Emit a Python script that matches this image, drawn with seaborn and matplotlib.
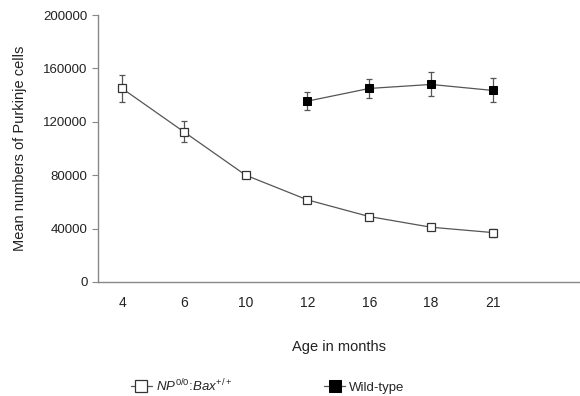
import numpy as np
import pandas as pd
import seaborn as sns
import matplotlib.pyplot as plt

# data
months = ['4', '6', '10', '12', '16', '18', '21']
np_mean = [145000, 112500, 80000, 61500, 49000, 41000, 37000]
np_err = [10000, 8000, 1500, 2000, 1500, 1500, 3000]
wt_months = ['12', '16', '18', '21']
wt_mean = [135500, 145000, 148000, 143500]
wt_err = [7000, 7000, 9000, 9000]

sns.set_style('ticks')
plt.rcParams['font.family'] = ['Liberation Sans', 'DejaVu Sans']
plt.rcParams['mathtext.fontset'] = 'custom'
plt.rcParams['mathtext.it'] = 'Liberation Sans:italic'
plt.rcParams['mathtext.rm'] = 'Liberation Sans'

df_np = pd.DataFrame({'pos': [months.index(m) for m in months], 'cells': np_mean})
df_wt = pd.DataFrame({'pos': [months.index(m) for m in wt_months], 'cells': wt_mean})

fig, ax = plt.subplots(figsize=(5.8, 3.96), dpi=100)
fig.subplots_adjust(left=0.169, right=1.0, bottom=0.288, top=0.962)

line_col = '#555555'
ax.errorbar(df_np['pos'], df_np['cells'], yerr=np_err, fmt='none',
            ecolor=line_col, elinewidth=0.9, capsize=2.5, capthick=0.9, zorder=2)
ax.errorbar(df_wt['pos'], df_wt['cells'], yerr=wt_err, fmt='none',
            ecolor=line_col, elinewidth=0.9, capsize=2.5, capthick=0.9, zorder=2)

sns.lineplot(data=df_np, x='pos', y='cells', ax=ax, color=line_col, linewidth=0.9,
             marker='s', markersize=6, markerfacecolor='white',
             markeredgecolor='#333333', markeredgewidth=0.9, zorder=3,
             label=r'$NP^{0/0}$:$Bax^{+/+}$')
sns.lineplot(data=df_wt, x='pos', y='cells', ax=ax, color=line_col, linewidth=0.9,
             marker='s', markersize=6, markerfacecolor='black',
             markeredgecolor='black', zorder=3, label='Wild-type')

ax.set_xlim(-0.39, 7.41)
ax.set_ylim(0, 200000)
ax.set_yticks(np.arange(0, 200001, 40000))
ax.set_xticks(range(len(months)))
ax.set_xticklabels(months)
ax.tick_params(axis='x', length=0, pad=10, labelsize=10, colors='#222222')
ax.tick_params(axis='y', length=4, width=0.8, color='#888888', labelsize=9.5,
               labelcolor='#222222')

for side in ['top', 'right']:
    ax.spines[side].set_visible(False)
for side in ['left', 'bottom']:
    ax.spines[side].set_color('#888888')
    ax.spines[side].set_linewidth(1.0)

ax.set_xlabel('Age in months', fontsize=10.5, labelpad=22, color='#222222')
ax.set_ylabel('Mean numbers of Purkinje cells', fontsize=10.5, labelpad=12, color='#222222')

handles, labels = ax.get_legend_handles_labels()
ax.get_legend().remove()
fig.legend(handles, labels, loc='lower left', bbox_to_anchor=(0.205, -0.025), ncol=2,
           frameon=False, fontsize=9.5, columnspacing=7.0, handlelength=1.6,
           handletextpad=0.3, markerscale=1.35)

fig.savefig('out.png', dpi=100)
